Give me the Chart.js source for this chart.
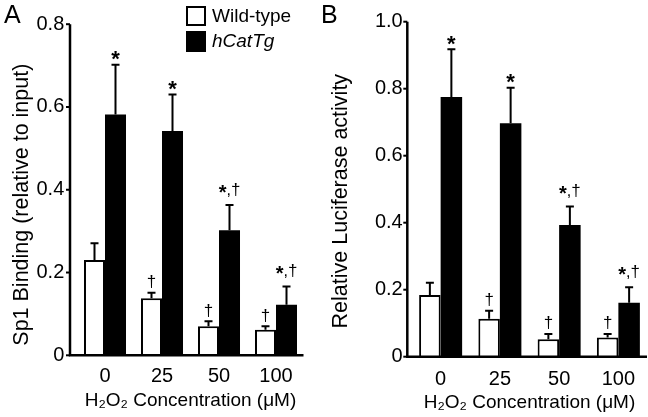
<!DOCTYPE html>
<html>
<head>
<title>Sp1 binding and luciferase activity vs H2O2</title>
<script src="https://cdn.jsdelivr.net/npm/chart.js"></script>
<style>
  body { margin: 0; background: #fff; }
  #wrap { position: relative; width: 648px; height: 417px; font-family: "Liberation Sans", Arial, sans-serif; color: #000; }
  #wrap canvas { position: absolute; top: 0; }
  .panel { position: absolute; font-size: 25px; line-height: 25px; }
  .key { position: absolute; box-sizing: border-box; width: 20px; border: 2px solid #000; }
  .keytxt { position: absolute; font-size: 19px; line-height: 19px; white-space: nowrap; }
</style>
</head>
<body>
<div id="wrap">
  <canvas id="chartA" width="324" height="417" style="left:0"></canvas>
  <canvas id="chartB" width="324" height="417" style="left:324px"></canvas>
  <div class="panel" style="left:4px; top:2px">A</div>
  <div class="panel" style="left:321px; top:2px">B</div>
  <div class="key" style="left:186px; top:6px; height:20px; background:#fff"></div>
  <div class="key" style="left:186px; top:31px; height:21px; background:#000"></div>
  <div class="keytxt" style="left:212px; top:6px">Wild-type</div>
  <div class="keytxt" style="left:212px; top:31px; font-style:italic">hCatTg</div>
</div>
<script>
// H2O2 doses (µM)
const doses = ['0', '25', '50', '100'];
const seriesNames = ['Wild-type', 'hCatTg'];

// A - Sp1 binding (relative to input)
const sp1WildType = [0.230, 0.138, 0.070, 0.062];
const sp1WildTypeErr = [0.041, 0.013, 0.012, 0.008];
const sp1HCatTg = [0.582, 0.542, 0.302, 0.122];
const sp1HCatTgErr = [0.120, 0.088, 0.061, 0.044];
const sp1WildTypeMarks = ['', '†', '†', '†'];
const sp1HCatTgMarks = ['*', '*', '*,†', '*,†'];

// B - relative luciferase activity
const lucWildType = [0.184, 0.113, 0.052, 0.057];
const lucWildTypeErr = [0.037, 0.024, 0.016, 0.011];
const lucHCatTg = [0.775, 0.697, 0.393, 0.161];
const lucHCatTgErr = [0.143, 0.106, 0.055, 0.046];
const lucWildTypeMarks = ['', '†', '†', '†'];
const lucHCatTgMarks = ['*', '*', '*,†', '*,†'];

const sp1YMax = 0.8;
const lucYMax = 1.0;
const yStep = 0.2;

Chart.defaults.font.family = '"Liberation Sans", Arial, sans-serif';
Chart.defaults.color = '#000';

// significance marks above the error caps
function drawMark(ctx, mark, x, capY) {
  if (!mark) return;
  ctx.fillStyle = '#000';
  ctx.textBaseline = 'alphabetic';
  if (mark === '*') {
    ctx.font = 'bold 22px "Liberation Sans", Arial, sans-serif';
    ctx.textAlign = 'center';
    ctx.fillText('*', x, capY + 1.5);
    return;
  }
  if (mark === '†') {
    ctx.font = '17px "Liberation Sans", Arial, sans-serif';
    ctx.textAlign = 'center';
    ctx.fillText('†', x, capY - 5.5);
    return;
  }
  // combined "*,†"
  const parts = [
    { t: '*', f: 'bold 20px "Liberation Sans", Arial, sans-serif', dy: -6.5 },
    { t: ',', f: '16px "Liberation Sans", Arial, sans-serif', dy: -10.5 },
    { t: '†', f: '17px "Liberation Sans", Arial, sans-serif', dy: -10.5 }
  ];
  let total = 0;
  parts.forEach(p => { ctx.font = p.f; p.w = ctx.measureText(p.t).width; total += p.w; });
  let cx = x - total / 2;
  ctx.textAlign = 'left';
  parts.forEach(p => { ctx.font = p.f; ctx.fillText(p.t, cx, capY + p.dy); cx += p.w; });
}

// offset axes, SEM whiskers and marks
const figurePlugin = {
  id: 'figure',
  afterDatasetsDraw(chart, args, opts) {
    const ctx = chart.ctx;
    const area = chart.chartArea;
    const y = chart.scales.y;
    const ax = area.left - opts.axisGap;
    ctx.save();
    ctx.strokeStyle = '#000';
    ctx.lineWidth = 2.5;
    ctx.beginPath();
    ctx.moveTo(ax, area.top);
    ctx.lineTo(ax, area.bottom);
    ctx.moveTo(ax - 1.25, area.bottom);
    ctx.lineTo(area.right - 1, area.bottom);
    ctx.stroke();
    ctx.lineWidth = 2;
    y.ticks.forEach(t => {
      const py = y.getPixelForValue(t.value);
      ctx.beginPath();
      ctx.moveTo(ax - 4, py);
      ctx.lineTo(ax, py);
      ctx.stroke();
    });
    chart.data.datasets.forEach((ds, di) => {
      const meta = chart.getDatasetMeta(di);
      meta.data.forEach((bar, i) => {
        const v = ds.data[i];
        const capY = y.getPixelForValue(v + ds.errors[i]);
        ctx.lineWidth = 2;
        ctx.beginPath();
        ctx.moveTo(bar.x, y.getPixelForValue(v));
        ctx.lineTo(bar.x, capY);
        ctx.moveTo(bar.x - 4, capY);
        ctx.lineTo(bar.x + 4, capY);
        ctx.stroke();
        drawMark(ctx, ds.marks[i], bar.x, capY);
      });
    });
    ctx.restore();
  }
};

function makeChart(id, c) {
  return new Chart(document.getElementById(id), {
    type: 'bar',
    data: {
      labels: doses,
      datasets: [
        {
          label: seriesNames[0], data: c.wt, errors: c.wtErr, marks: c.wtMarks,
          backgroundColor: '#fff', borderColor: '#000', borderWidth: 2,
          categoryPercentage: c.catPct, barPercentage: 1
        },
        {
          label: seriesNames[1], data: c.tg, errors: c.tgErr, marks: c.tgMarks,
          backgroundColor: '#000', borderColor: '#000', borderWidth: 0,
          categoryPercentage: c.catPct, barPercentage: 1
        }
      ]
    },
    options: {
      responsive: false,
      animation: false,
      devicePixelRatio: 1,
      layout: { padding: c.padding },
      plugins: {
        legend: { display: false },
        tooltip: { enabled: false },
        figure: { axisGap: c.axisGap }
      },
      scales: {
        x: {
          grid: { display: false, drawTicks: false },
          border: { display: false },
          ticks: { font: { size: 20 }, padding: c.xTickPad },
          title: {
            display: true,
            text: 'H₂O₂ Concentration (μM)',
            font: { size: 19 },
            padding: { top: 0, bottom: c.xTitlePad }
          },
          afterFit(s) { s.height = c.xHeight; }
        },
        y: {
          min: 0,
          max: c.yMax,
          grid: { display: false, drawTicks: false },
          border: { display: false },
          ticks: {
            stepSize: yStep,
            font: { size: 20 },
            padding: c.yTickPad,
            callback: v => (v === 0 ? '0' : v.toFixed(1))
          },
          title: {
            display: true,
            text: c.yTitle,
            font: { size: 21.5 },
            padding: { top: 0, bottom: 0 }
          },
          afterFit(s) { s.width = c.yWidth; }
        }
      }
    },
    plugins: [figurePlugin]
  });
}

makeChart('chartA', {
  wt: sp1WildType, wtErr: sp1WildTypeErr, wtMarks: sp1WildTypeMarks,
  tg: sp1HCatTg, tgErr: sp1HCatTgErr, tgMarks: sp1HCatTgMarks,
  yMax: sp1YMax,
  yTitle: 'Sp1 Binding (relative to input)     ',
  padding: { top: 21.7, left: 9, right: 19.5, bottom: 0 },
  yWidth: 67.5, xHeight: 61.7,
  yTickPad: 12.2, xTickPad: 9.2, xTitlePad: 4.5,
  axisGap: 6.5, catPct: 0.737
});

makeChart('chartB', {
  wt: lucWildType, wtErr: lucWildTypeErr, wtMarks: lucWildTypeMarks,
  tg: lucHCatTg, tgErr: lucHCatTgErr, tgMarks: lucHCatTgMarks,
  yMax: lucYMax,
  yTitle: 'Relative Luciferase activity    ',
  padding: { top: 21.7, left: 4.4, right: 0, bottom: 0 },
  yWidth: 82.6, xHeight: 60.3,
  yTickPad: 8.3, xTickPad: 11, xTitlePad: 3,
  axisGap: 3.7, catPct: 0.726
});
</script>
</body>
</html>
